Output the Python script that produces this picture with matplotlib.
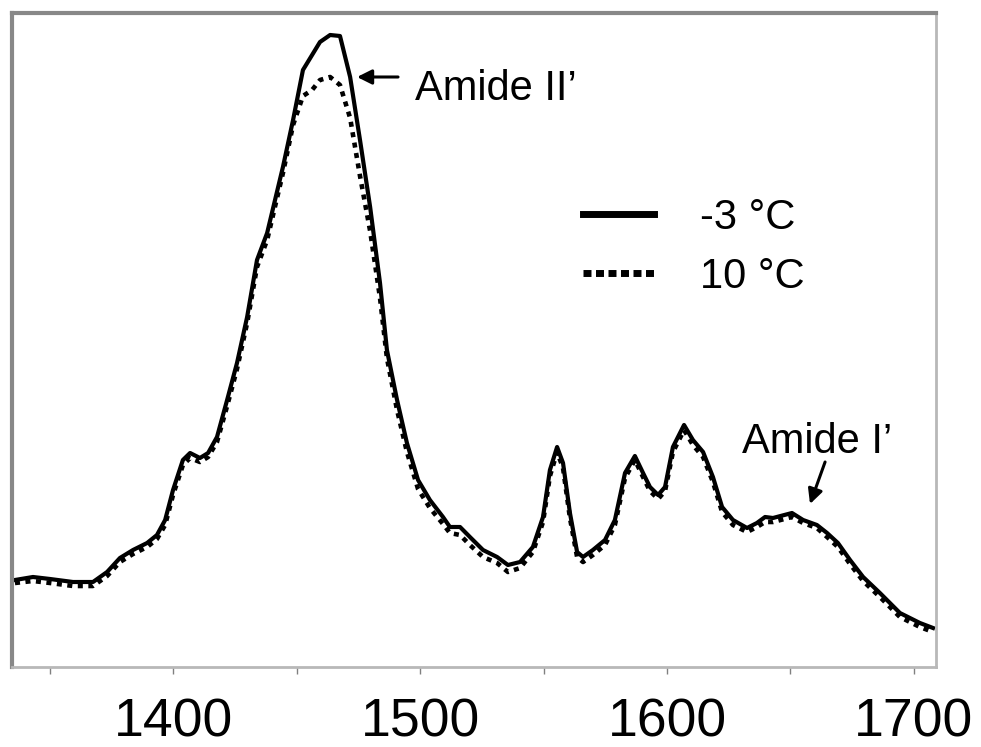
import matplotlib
matplotlib.use('Agg')
from matplotlib import pyplot as plt
from matplotlib.lines import Line2D
import numpy as np

plt.rcParams['font.family'] = ['Liberation Sans', 'DejaVu Sans']

# wavenumber (cm-1) and absorbance
wn = [1336.0, 1343.3, 1350.2, 1359.5, 1367.6, 1373.3, 1378.5, 1383.8, 1389.5, 1393.5,
      1396.8, 1400.0, 1404.0, 1406.9, 1410.9, 1414.2, 1417.8, 1421.9, 1425.9, 1430.0,
      1434.0, 1438.1, 1444.5, 1448.6, 1452.6, 1456.3, 1459.5, 1463.6, 1467.6, 1471.7,
      1475.7, 1479.8, 1483.8, 1486.6, 1490.7, 1494.7, 1499.2, 1504.0, 1509.3, 1512.1,
      1516.2, 1520.2, 1525.5, 1531.2, 1535.6, 1540.5, 1545.7, 1549.8, 1552.6, 1555.5,
      1557.9, 1560.7, 1563.6, 1566.0, 1570.0, 1574.9, 1578.9, 1583.0, 1587.0, 1590.3,
      1593.1, 1596.4, 1599.2, 1602.4, 1606.9, 1610.5, 1614.6, 1618.6, 1622.3, 1626.7,
      1632.4, 1636.4, 1639.7, 1642.9, 1650.6, 1655.1, 1660.7, 1664.8, 1669.2, 1674.1,
      1679.4, 1686.2, 1694.3, 1702.4, 1707.7]

abs_m3 = [0.086, 0.089, 0.087, 0.084, 0.084, 0.094, 0.108, 0.116, 0.123, 0.131,
          0.146, 0.176, 0.206, 0.213, 0.208, 0.213, 0.229, 0.266, 0.303, 0.349,
          0.406, 0.433, 0.499, 0.546, 0.596, 0.611, 0.624, 0.631, 0.630, 0.589,
          0.526, 0.459, 0.383, 0.316, 0.266, 0.223, 0.186, 0.166, 0.149, 0.139,
          0.139, 0.129, 0.116, 0.109, 0.101, 0.104, 0.119, 0.149, 0.196, 0.219,
          0.203, 0.153, 0.114, 0.109, 0.116, 0.126, 0.146, 0.193, 0.210, 0.193,
          0.179, 0.171, 0.179, 0.219, 0.241, 0.226, 0.214, 0.189, 0.159, 0.146,
          0.138, 0.143, 0.149, 0.148, 0.153, 0.146, 0.141, 0.133, 0.123, 0.106,
          0.089, 0.073, 0.053, 0.043, 0.038]

abs_10 = [0.083, 0.085, 0.083, 0.080, 0.080, 0.090, 0.104, 0.112, 0.119, 0.127,
          0.141, 0.171, 0.201, 0.208, 0.204, 0.209, 0.224, 0.260, 0.297, 0.343,
          0.399, 0.426, 0.493, 0.541, 0.570, 0.576, 0.586, 0.589, 0.581, 0.548,
          0.490, 0.435, 0.368, 0.308, 0.256, 0.214, 0.177, 0.158, 0.142, 0.133,
          0.131, 0.121, 0.109, 0.103, 0.094, 0.098, 0.114, 0.144, 0.190, 0.214,
          0.198, 0.148, 0.109, 0.104, 0.111, 0.121, 0.141, 0.188, 0.206, 0.189,
          0.175, 0.167, 0.175, 0.214, 0.236, 0.221, 0.209, 0.184, 0.154, 0.141,
          0.134, 0.139, 0.144, 0.144, 0.149, 0.143, 0.138, 0.129, 0.119, 0.102,
          0.085, 0.069, 0.049, 0.039, 0.034]

labels = ['-3 °C', '10 °C']

fig = plt.figure(figsize=(9.81, 7.47), dpi=100)
ax = fig.add_axes([0.01223, 0.1071, 0.9541 - 0.01223, 0.9826 - 0.1071])

ax.plot(wn, abs_m3, color='k', lw=3, solid_joinstyle='round')
ax.plot(wn, abs_10, color='k', lw=3.3, dashes=(1.1, 1.2), dash_capstyle='butt')

ax.set_xlim(1334.8, 1708.9)
ax.set_ylim(-0.001, 0.653)

ax.set_xticks(np.arange(1350, 1701, 50))
ax.set_xticklabels(['' if t % 100 else str(t) for t in range(1350, 1701, 50)])
ax.set_yticks([])
ax.tick_params(axis='x', direction='out', length=5, width=1, color='#808080',
               labelsize=38.5, pad=17)

for s in ['top', 'left']:
    ax.spines[s].set_color('#888888')
    ax.spines[s].set_linewidth(3)
for s in ['bottom', 'right']:
    ax.spines[s].set_color('#b8b8b8')
    ax.spines[s].set_linewidth(2)

# legend with thicker sample lines
h1 = Line2D([], [], color='k', lw=5)
h2 = Line2D([], [], color='k', lw=5, dashes=(1.15, 0.65), dash_capstyle='butt')
ax.legend([h1, h2], labels, loc='upper left', bbox_to_anchor=(583 / 981, 1 - 198 / 747),
          bbox_transform=fig.transFigure, frameon=False, fontsize=30,
          handlelength=1.7, handletextpad=1.1, labelspacing=0.45,
          borderpad=0, borderaxespad=0)

arrow = dict(arrowstyle='-|>', color='k', lw=2.2, mutation_scale=22, shrinkA=0, shrinkB=0)

ax.text(1498.0, 0.566, 'Amide II\u2019', fontsize=30, ha='left', va='baseline')
ax.annotate('', xy=(1474.5, 0.589), xytext=(1491.1, 0.589), arrowprops=arrow)

ax.text(1630.4, 0.213, 'Amide I\u2019', fontsize=30, ha='left', va='baseline')
ax.annotate('', xy=(1657.9, 0.162), xytext=(1664.0, 0.204), arrowprops=arrow)

fig.savefig('out.png', dpi=100)
